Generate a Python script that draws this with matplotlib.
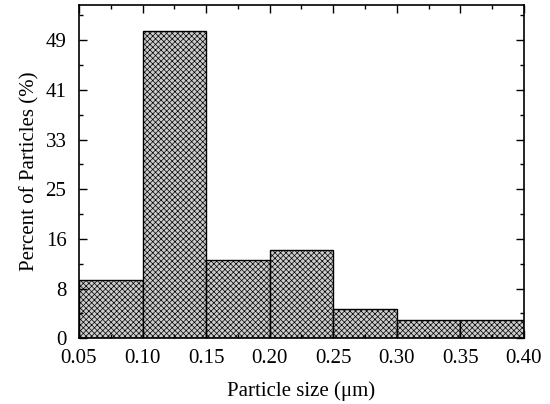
import matplotlib.pyplot as plt
import numpy as np

# bin edges (um) and percentage in each bin
bin_edges = [0.05, 0.10, 0.15, 0.20, 0.25, 0.30, 0.35, 0.40]
percents = [9.7, 50.7, 13.0, 14.6, 4.8, 3.1, 3.1]

# y tick labels as printed on the chart (ticks evenly spaced)
ytick_labels = ['0', '8', '16', '25', '33', '41', '49']
ytick_step = 8.2

plt.rcParams['font.family'] = ['Liberation Serif', 'DejaVu Serif']
plt.rcParams['hatch.linewidth'] = 0.5
plt.rcParams['hatch.color'] = '#7a7a7a'

fig = plt.figure(figsize=(5.5, 4.04), dpi=100)
ax = fig.add_axes([0.1436, 0.1626, 0.8091, 0.825])

lefts = np.array(bin_edges[:-1])
widths = np.diff(bin_edges)
ax.bar(lefts, percents, width=widths, align='edge', color='#cccccc',
       edgecolor='black', linewidth=1.0, hatch='xxxxxx')

ax.set_xlim(0.05, 0.40)
ax.set_ylim(0, 55)
ax.set_xticks(bin_edges)
ax.set_xticklabels(['%.2f' % v for v in bin_edges])
ax.set_xticks(np.arange(0.075, 0.40, 0.05), minor=True)
yt = np.arange(len(ytick_labels)) * ytick_step
ax.set_yticks(yt)
ax.set_yticklabels(ytick_labels)
ax.set_yticks(list(yt[:-1] + ytick_step / 2) + [yt[-1] + ytick_step / 2], minor=True)

ax.tick_params(which='both', direction='in', top=True, right=True,
               labelsize=15, width=1.0)
ax.tick_params(which='major', length=6)
ax.tick_params(axis='x', which='major', pad=8)
ax.tick_params(axis='y', which='major', pad=9)
ax.tick_params(which='minor', length=3)
for s in ax.spines.values():
    s.set_linewidth(1.2)

ax.set_xlabel('Particle size (\u03bcm)', fontsize=15, labelpad=9)
ax.set_ylabel('Percent of Particles (%)', fontsize=15, labelpad=4)

fig.savefig('out.png', dpi=100)
